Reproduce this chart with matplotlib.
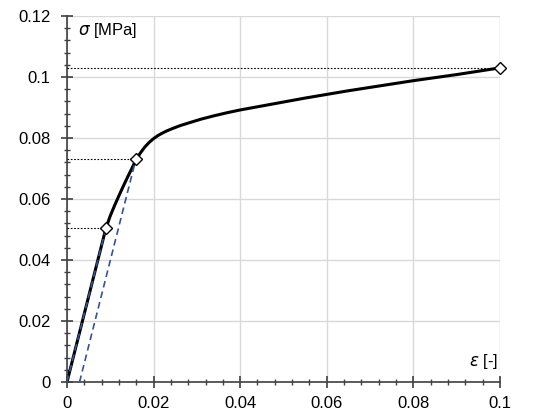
import numpy as np
from matplotlib import pyplot as plt
from matplotlib.ticker import MultipleLocator, FuncFormatter

plt.rcParams['font.family'] = ['Liberation Sans', 'DejaVu Sans']

# courbe contrainte-deformation
eps = [0, 0.009, 0.010, 0.011, 0.012, 0.013, 0.014, 0.015, 0.016, 0.017, 0.018,
       0.019, 0.02, 0.021, 0.022, 0.023, 0.024, 0.026, 0.028, 0.031, 0.034,
       0.037, 0.04, 0.045, 0.05, 0.055, 0.06, 0.065, 0.07, 0.075, 0.08, 0.085,
       0.09, 0.095, 0.1]
sig = [0, 0.0505, 0.0545, 0.0579, 0.0611, 0.0642, 0.0672, 0.0701, 0.073, 0.0752, 0.0771,
       0.0786, 0.0798, 0.0808, 0.0816, 0.0823, 0.0829, 0.0840, 0.0849, 0.0862, 0.0873,
       0.0883, 0.0892, 0.0905, 0.0918, 0.0931, 0.0943, 0.0955, 0.0966, 0.0977, 0.0988, 0.0998,
       0.1008, 0.1019, 0.103]

# droites elastiques (bleu pointille)
elas_eps = [0, 0.009]
elas_sig = [0, 0.0505]
off_eps = [0.0029, 0.0159]
off_sig = [0, 0.073]

# points remarquables
pts_eps = [0.009, 0.0159, 0.1]
pts_sig = [0.0505, 0.073, 0.103]

fig = plt.figure(figsize=(5.33, 4.16), dpi=100)
ax = fig.add_axes([0.1257, 0.0817, 0.8123, 0.8798])

for e, s in zip(pts_eps, pts_sig):
    ax.plot([0, e], [s, s], color='black', lw=0.8, ls=(0, (1.5, 1.5)), zorder=3)

ax.plot(elas_eps, elas_sig, color='#2F5597', lw=1.2, ls=(0, (4, 2.5)), zorder=3)
ax.plot(off_eps, off_sig, color='#2F5597', lw=1.2, ls=(0, (4, 2.5)), zorder=3)
ax.plot(eps, sig, color='black', lw=2.2, zorder=2)
ax.plot(pts_eps, pts_sig, ls='none', marker='D', ms=6, mfc='white', mec='black',
        mew=1.0, zorder=5, clip_on=False)

ax.set_xlim(0, 0.1)
ax.set_ylim(0, 0.12)
ax.xaxis.set_major_locator(MultipleLocator(0.02))
ax.xaxis.set_minor_locator(MultipleLocator(0.004))
ax.yaxis.set_major_locator(MultipleLocator(0.02))
ax.yaxis.set_minor_locator(MultipleLocator(0.004))
fmt = FuncFormatter(lambda v, p: '%g' % round(v, 4))
ax.xaxis.set_major_formatter(fmt)
ax.yaxis.set_major_formatter(fmt)

ax.grid(True, which='major', color='#d9d9d9', lw=1)
ax.set_axisbelow(True)
for s in ['top', 'right']:
    ax.spines[s].set_visible(False)
for s in ['left', 'bottom']:
    ax.spines[s].set_color('#404040')
    ax.spines[s].set_linewidth(1.2)
ax.tick_params(which='major', direction='inout', length=8, width=1.2,
               color='#404040', labelsize=12)
ax.tick_params(axis='y', which='major', pad=8)
ax.tick_params(axis='x', which='major', pad=6)
ax.tick_params(which='minor', direction='inout', length=5, width=1,
               color='#404040')

ax.text(0.0025, 0.1185, r'$\sigma$ [MPa]', fontsize=12, ha='left', va='top')
ax.text(0.0995, 0.0035, r'$\varepsilon$ [-]', fontsize=12, ha='right', va='bottom')

fig.savefig('out.png', dpi=100)
